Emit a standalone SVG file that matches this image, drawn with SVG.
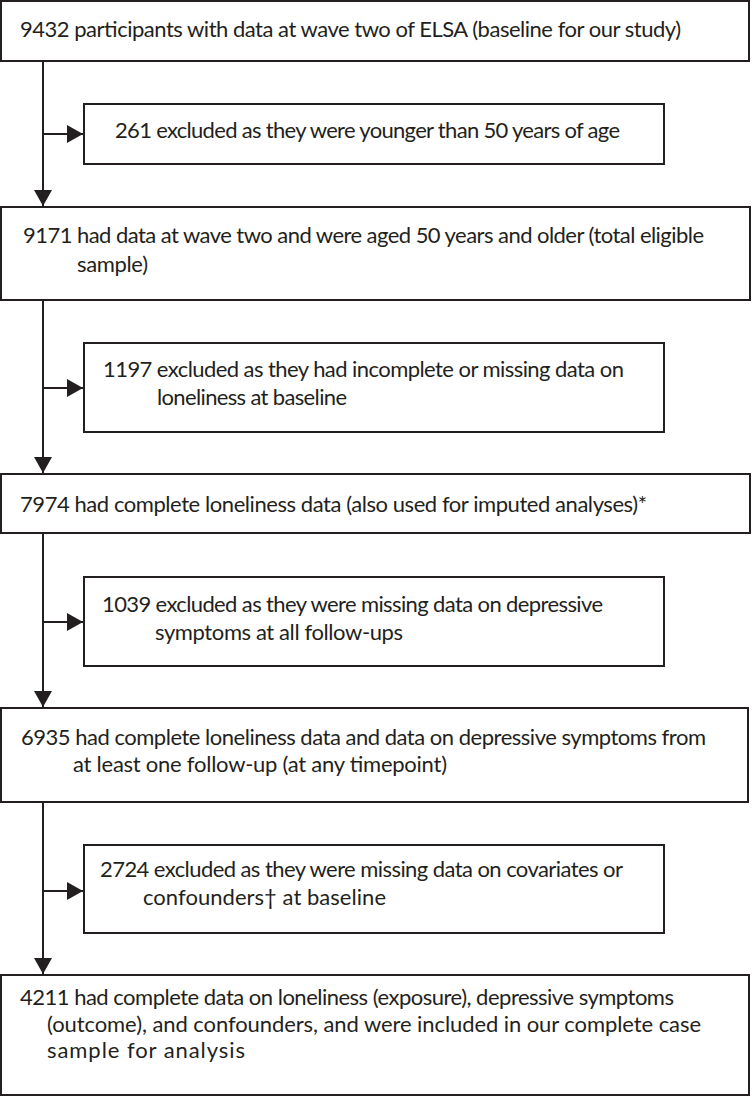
<svg xmlns="http://www.w3.org/2000/svg" width="752" height="1097" viewBox="0 0 752 1097">
<style>
.box{fill:#fff;stroke:#231f20;stroke-width:2}
.t{font-family:Lato,"Liberation Sans",sans-serif;font-size:22px;fill:#231f20}
.ln{stroke:#231f20;stroke-width:2;fill:none}
</style>
<defs>
<marker id="ah" viewBox="0 0 16 18" refX="16" refY="9" markerWidth="16" markerHeight="18" markerUnits="userSpaceOnUse" orient="auto">
<path d="M0,0 L16,9 L0,18 Z" fill="#231f20"/>
</marker>
</defs>
<rect width="752" height="1097" fill="#fff"/>
<g id="connectors">
<line class="ln" x1="43" y1="61" x2="43" y2="206" marker-end="url(#ah)"/>
<line class="ln" x1="43" y1="134" x2="83" y2="134" marker-end="url(#ah)"/>
<line class="ln" x1="43" y1="300" x2="43" y2="473" marker-end="url(#ah)"/>
<line class="ln" x1="43" y1="388" x2="83" y2="388" marker-end="url(#ah)"/>
<line class="ln" x1="43" y1="533" x2="43" y2="707" marker-end="url(#ah)"/>
<line class="ln" x1="43" y1="622" x2="83" y2="622" marker-end="url(#ah)"/>
<line class="ln" x1="43" y1="802" x2="43" y2="974" marker-end="url(#ah)"/>
<line class="ln" x1="43" y1="891" x2="83" y2="891" marker-end="url(#ah)"/>
</g>
<g id="n1">
<rect class="box" x="1" y="1" width="748" height="60"/>
<text class="t" x="20" y="37" textLength="661" lengthAdjust="spacing">9432 participants with data at wave two of ELSA (baseline for our study)</text>
</g>
<g id="n2">
<rect class="box" x="84" y="104" width="580" height="60"/>
<text class="t" x="115" y="138" textLength="505" lengthAdjust="spacing">261 excluded as they were younger than 50 years of age</text>
</g>
<g id="n3">
<rect class="box" x="1" y="207" width="749" height="93"/>
<text class="t" x="23" y="243" textLength="681" lengthAdjust="spacing">9171 had data at wave two and were aged 50 years and older (total eligible</text>
<text class="t" x="77" y="272" textLength="71" lengthAdjust="spacing">sample)</text>
</g>
<g id="n4">
<rect class="box" x="84" y="343" width="580" height="89"/>
<text class="t" x="103" y="377" textLength="521" lengthAdjust="spacing">1197 excluded as they had incomplete or missing data on</text>
<text class="t" x="157" y="405" textLength="190" lengthAdjust="spacing">loneliness at baseline</text>
</g>
<g id="n5">
<rect class="box" x="1" y="474" width="749" height="59"/>
<text class="t" x="20" y="512" textLength="627" lengthAdjust="spacing">7974 had complete loneliness data (also used for imputed analyses)*</text>
</g>
<g id="n6">
<rect class="box" x="84" y="577" width="580" height="89"/>
<text class="t" x="102" y="612" textLength="501" lengthAdjust="spacing">1039 excluded as they were missing data on depressive</text>
<text class="t" x="155" y="640" textLength="248" lengthAdjust="spacing">symptoms at all follow-ups</text>
</g>
<g id="n7">
<rect class="box" x="1" y="708" width="747" height="94"/>
<text class="t" x="21" y="745" textLength="685" lengthAdjust="spacing">6935 had complete loneliness data and data on depressive symptoms from</text>
<text class="t" x="73" y="772" textLength="374" lengthAdjust="spacing">at least one follow-up (at any timepoint)</text>
</g>
<g id="n8">
<rect class="box" x="84" y="845" width="580" height="88"/>
<text class="t" x="100" y="877" textLength="523" lengthAdjust="spacing">2724 excluded as they were missing data on covariates or</text>
<text class="t" x="143" y="905" textLength="243" lengthAdjust="spacing">confounders† at baseline</text>
</g>
<g id="n9">
<rect class="box" x="1" y="975" width="748" height="120"/>
<text class="t" x="20" y="1005" textLength="654" lengthAdjust="spacing">4211 had complete data on loneliness (exposure), depressive symptoms</text>
<text class="t" x="47" y="1032" textLength="654" lengthAdjust="spacing">(outcome), and confounders, and were included in our complete case</text>
<text class="t" x="47" y="1058" textLength="198" lengthAdjust="spacing">sample for analysis</text>
</g>
</svg>
